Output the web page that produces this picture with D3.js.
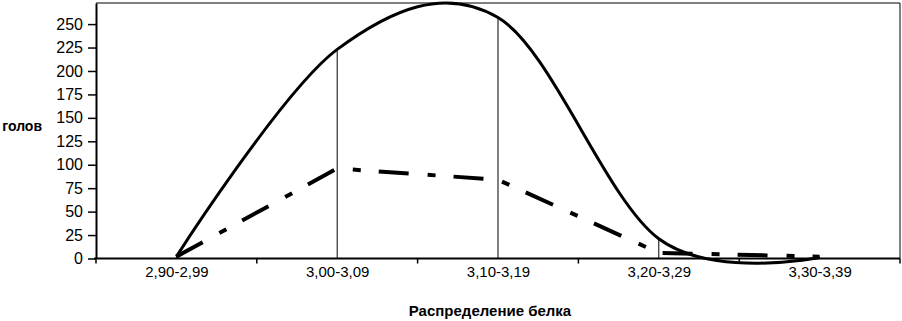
<!DOCTYPE html>
<html>
<head>
<meta charset="utf-8">
<script src="https://d3js.org/d3.v7.min.js"></script>
<style>
  body { margin: 0; background: #fff; }
  svg { display: block; font-family: "Liberation Sans", Arial, sans-serif; }
</style>
</head>
<body>
<svg width="902" height="321"></svg>
<script>
// categories and series values
const categories = ["2,90-2,99", "3,00-3,09", "3,10-3,19", "3,20-3,29", "3,30-3,39"];
const solidValues = [2, 223, 257, 21, 1];
const dashValues = [2, 96, 84, 6, 2];
const yTicks = [0, 25, 50, 75, 100, 125, 150, 175, 200, 225, 250];
const yTitle = "голов";
const xTitle = "Распределение белка";

let svg = d3.select("svg");

// plot area
const plotLeft = 96, plotRight = 900, plotTop = 3, plotBottom = 258.5;

let yScale = d3.scaleLinear()
    .domain([0, 272.5])
    .range([plotBottom, plotTop]);

let xBand = d3.scaleBand()
    .domain(categories)
    .range([plotLeft, plotRight]);

let xPoint = d3.scalePoint()
    .domain(categories)
    .range([plotLeft, plotRight])
    .padding(0.5);

// frame (top and right edges)
svg.append("path")
    .attr("d", `M${plotLeft},${plotTop}H${plotRight}V${plotBottom}`)
    .attr("fill", "none")
    .attr("stroke", "#000")
    .attr("stroke-width", 1);

// drop lines from the solid series
svg.append("g").selectAll("line").data(solidValues).join("line")
    .attr("x1", (d, i) => xPoint(categories[i]))
    .attr("x2", (d, i) => xPoint(categories[i]))
    .attr("y1", d => yScale(d))
    .attr("y2", yScale(0))
    .attr("stroke", "#000")
    .attr("stroke-width", 1);

// smoothed line for the solid series, straight segments for the dash-dot one
const smoothLine = d3.line()
    .x((d, i) => xPoint(categories[i]))
    .y(d => yScale(d))
    .curve(d3.curveCardinal.tension(0));

const straightLine = d3.line()
    .x((d, i) => xPoint(categories[i]))
    .y(d => yScale(d));

svg.append("path")
    .datum(dashValues)
    .attr("fill", "none")
    .attr("stroke", "#000")
    .attr("stroke-width", 4)
    .attr("stroke-dasharray", "30,19,8,18")
    .attr("d", straightLine);

svg.append("path")
    .datum(solidValues)
    .attr("fill", "none")
    .attr("stroke", "#000")
    .attr("stroke-width", 3)
    .attr("d", smoothLine);

// y axis
let leftAxis = d3.axisLeft(yScale)
    .tickValues(yTicks)
    .tickSize(8)
    .tickPadding(5)
    .tickSizeOuter(0);

let yg = svg.append("g")
    .attr("transform", `translate(${plotLeft},0)`)
    .call(leftAxis);
yg.select(".domain").attr("stroke-width", 2);
yg.selectAll(".tick line").attr("stroke-width", 1.5);
yg.selectAll("text").style("font-size", "16px").attr("fill", "#000");

// x axis: labels at category centres
let bottomAxis = d3.axisBottom(xPoint)
    .tickSize(0)
    .tickPadding(8);

let xg = svg.append("g")
    .attr("transform", `translate(0,${plotBottom})`)
    .call(bottomAxis);
xg.select(".domain").remove();
xg.selectAll("text").style("font-size", "15px").attr("fill", "#000");

// x axis line and boundary ticks
svg.append("line")
    .attr("x1", plotLeft - 2).attr("x2", plotRight)
    .attr("y1", plotBottom).attr("y2", plotBottom)
    .attr("stroke", "#000")
    .attr("stroke-width", 2);

const bounds = categories.map(c => xBand(c)).concat([plotRight]);
svg.append("g").selectAll("line").data(bounds).join("line")
    .attr("x1", d => d).attr("x2", d => d)
    .attr("y1", plotBottom).attr("y2", plotBottom + 5)
    .attr("stroke", "#000")
    .attr("stroke-width", 1.5);

// titles
svg.append("text")
    .attr("x", 42)
    .attr("y", 131)
    .attr("text-anchor", "end")
    .style("font-size", "14px")
    .attr("font-weight", "bold")
    .text(yTitle);

svg.append("text")
    .attr("x", 490)
    .attr("y", 316)
    .attr("text-anchor", "middle")
    .style("font-size", "15px")
    .attr("font-weight", "bold")
    .text(xTitle);
</script>
</body>
</html>
